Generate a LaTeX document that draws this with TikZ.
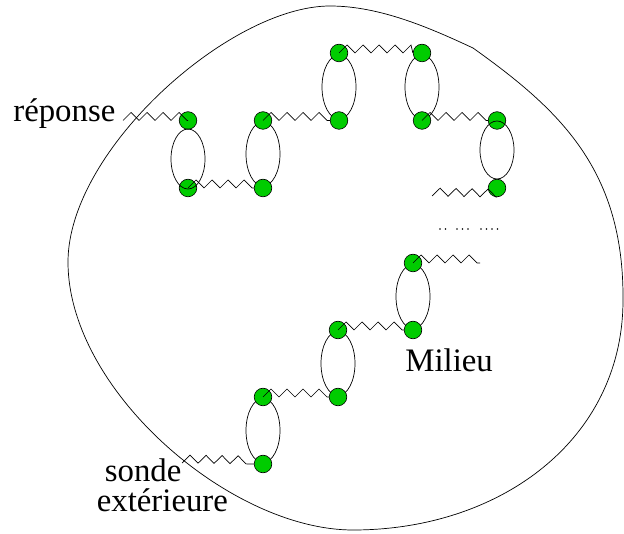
\documentclass[tikz,border=0pt]{standalone}
\usepackage{fontspec}
\setmainfont{Liberation Serif}
\usetikzlibrary{decorations,shapes.geometric}
\pgfdeclaredecoration{upzigzag}{up}{
  \state{up}[width=8pt, next state=down]
  {\pgfpathlineto{\pgfqpoint{8pt}{8pt}}}
  \state{down}[width=8pt, next state=up]
  {\pgfpathlineto{\pgfqpoint{8pt}{0pt}}}
  \state{final}{\pgfpathlineto{\pgfpointdecoratedpathlast}}
}
\definecolor{beadgreen}{RGB}{0,204,0}
\begin{document}
\begin{tikzpicture}[x=1pt,y=-1pt,
  line width=0.7pt,
  bead/.style={circle,draw,fill=beadgreen,minimum size=17.6pt,inner sep=0pt,line width=0.6pt},
  bubble/.style={ellipse,draw,minimum width=34pt,minimum height=64pt,inner sep=0pt},
  spring/.style={decorate,decoration={upzigzag}},
  lab/.style={font=\fontsize{32.8pt}{30pt}\selectfont,inner sep=0pt,anchor=base west},
  dotmark/.style={fill=black}]
\useasboundingbox (0,0) rectangle (624,534);
% outline of the medium
\draw (330,6) .. controls (380,6) and (430,28) .. (473,48)
  .. controls (560,110) and (624,170) .. (623,300)
  .. controls (623,440) and (500,530) .. (353,530)
  .. controls (230,530) and (68,390) .. (68,262)
  .. controls (68,150) and (230,6) .. cycle;
% bubbles (under beads)
\node[bubble] (b2) at (263,154) {};
\node[bubble] (b3) at (339,87) {};
\node[bubble] (b4) at (422,87) {};
\node[bubble] (b6) at (413,296.5) {};
\node[bubble] (b7) at (338,363.5) {};
\node[bubble] (b8) at (263,430.5) {};
% beads
\node[bead] (c1) at (188,120.5) {};
\node[bead] (c2) at (188,188) {};
\node[bead] (c3) at (263,120.5) {};
\node[bead] (c4) at (263,188) {};
\node[bead] (c5) at (339,120.5) {};
\node[bead] (c6) at (339,53) {};
\node[bead] (c7) at (422,120.5) {};
\node[bead] (c8) at (422,53) {};
\node[bead] (c9) at (497,120.5) {};
\node[bead] (c10) at (497,188) {};
\node[bead] (c11) at (413,263) {};
\node[bead] (c12) at (413,330) {};
\node[bead] (c13) at (338,330) {};
\node[bead] (c14) at (338,397) {};
\node[bead] (c15) at (263,397) {};
\node[bead] (c16) at (263,464) {};
% bubbles drawn over beads
\node[bubble,minimum height=60pt] (b1) at (188,159) {};
\node[bubble,minimum height=58pt] (b5) at (497,150) {};
% free ends
\coordinate (rs) at (123,120.5);
\coordinate (ss) at (182,463);
\coordinate (fl) at (432,196);
\coordinate (fr) at (480,263);
% springs
\draw[spring] (rs) -- (c1.center);
\draw[spring] (c2.center) -- (c4.west);
\draw[spring] (c3.center) -- (c5.west);
\draw[spring] (c6.center) -- (c8.west);
\draw[spring] (c7.center) -- (c9.west);
\draw[spring] (fl) -- (c10.south);
\draw[spring] (c11.center) -- (fr);
\draw[spring] (c13.center) -- (c12.west);
\draw[spring] (c15.center) -- (c14.west);
\draw[spring] (ss) -- (c16.west);
% dots
\foreach \x in {440,445.5,457,462.5,468,481,486.5,492,497.5}
  \fill[dotmark] (\x,229) circle (0.9pt);
% labels
\node[lab] (reponse) at (13,122) {réponse};
\node[lab] (milieu) at (405,372) {Milieu};
\node[lab] (sonde) at (104.5,481.7) {sonde};
\node[lab] (exterieure) at (96.5,511.7) {extérieure};
\end{tikzpicture}
\end{document}
